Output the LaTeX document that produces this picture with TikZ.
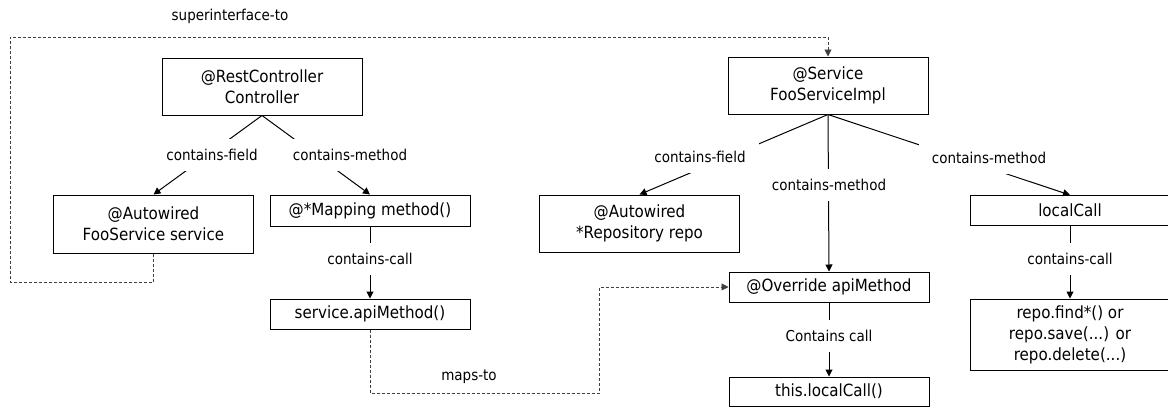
\documentclass[tikz,border=0pt]{standalone}
\usepackage{fontspec}
\setmainfont{DejaVu Sans}[FakeStretch=0.9]
\usetikzlibrary{arrows.meta}
\begin{document}
\begin{tikzpicture}[x=1pt,y=-1pt,
  box/.style={draw, line width=1pt, minimum width=200pt, inner sep=0pt, align=center, fill=white, font=\fontsize{16.8}{21}\selectfont},
  lbl/.style={fill=white, inner xsep=13pt, inner ysep=10pt, font=\fontsize{15}{18}\selectfont},
  plain/.style={inner sep=0pt, font=\fontsize{15}{18}\selectfont},
  edge/.style={line width=1pt, -{Triangle[length=7pt,width=7pt]}},
  dashrel/.style={line width=0.9pt, black!75, dash pattern=on 3pt off 2pt, -{Triangle[length=7pt,width=7pt]}}
]
\useasboundingbox (0,0) rectangle (1168,407);

% boxes
\node[box, minimum height=57pt] (ctrl) at (262,86.5) {@RestController\\Controller};
\node[box, minimum height=58pt] (fooSvc) at (153.5,224) {@Autowired\\FooService service};
\node[box, minimum height=31pt] (mapping) at (370,210.5) {@*Mapping method()};
\node[box, minimum height=30pt] (apicall) at (370,314) {service.apiMethod()};
\node[box, minimum height=57pt] (svc) at (828,85.5) {@Service\\FooServiceImpl};
\node[box, minimum height=57pt] (repo) at (639.5,223.5) {@Autowired\\*Repository repo};
\node[box, minimum height=30pt] (override) at (829,287) {@Override apiMethod};
\node[box, minimum height=29pt] (thiscall) at (829,391.5) {this.localCall()};
\node[box, minimum height=30pt] (localcall) at (1070,210.5) {localCall};
\node[box, minimum height=71pt] (repofind) at (1070,334.5) {repo.find*() or\\repo.save(...) or\\repo.delete(...)};

% contains edges
\draw[edge] (ctrl.south) -- (fooSvc.north);
\draw[edge] (ctrl.south) -- (mapping.north);
\draw[edge] (mapping.south) -- (apicall.north);
\draw[edge] (svc.south) -- (repo.north);
\draw[edge] (svc.south) -- (override.north);
\draw[edge] (svc.south) -- (localcall.north);
\draw[edge] (override.south) -- (thiscall.north);
\draw[edge] (localcall.south) -- (repofind.north);

% edge labels
\node[lbl] (cf1) at (212,155) {contains-field};
\node[lbl] (cm1) at (350,155) {contains-method};
\node[lbl] (cc1) at (370,259) {contains-call};
\node[lbl] (cf2) at (700,157) {contains-field};
\node[lbl] (cm2) at (829,185) {contains-method};
\node[lbl] (cm3) at (989,158) {contains-method};
\node[lbl] (cc2) at (829,336) {Contains call};
\node[lbl] (cc3) at (1070,259) {contains-call};

% dashed relations
\coordinate (siA) at (153.5,282);
\coordinate (siB) at (10,37);
\draw[dashrel] (fooSvc.south) -- (siA) -| (siB) -| (svc.north);
\node[plain] (silbl) at (230,16) {superinterface-to};

\coordinate (mtA) at (599,393);
\draw[dashrel] (apicall.south) |- (mtA) |- (override.west);
\node[plain] (mtlbl) at (469,377) {maps-to};
\end{tikzpicture}
\end{document}
